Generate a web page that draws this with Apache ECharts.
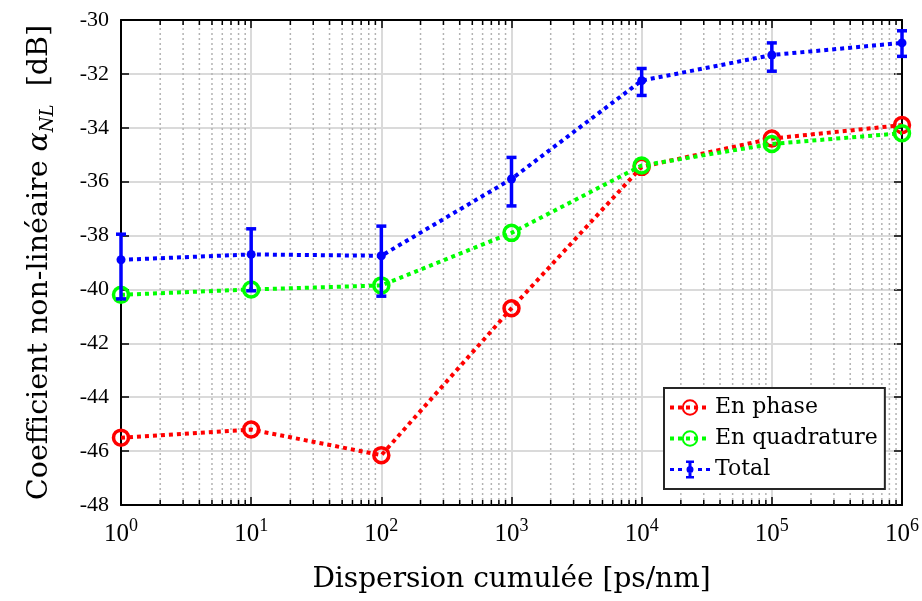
<!DOCTYPE html>
<html>
<head>
<meta charset="utf-8">
<script src="https://cdn.jsdelivr.net/npm/echarts@6/dist/echarts.min.js"></script>
<style>
  html, body { margin: 0; padding: 0; background: #fff; }
  #chart { width: 922px; height: 601px; }
</style>
</head>
<body>
<div id="chart"></div>
<script>
  // dispersion cumulée (ps/nm)
  const dispersion = [1, 10, 100, 1000, 10000, 100000, 1000000]
  const enPhase = [-45.5, -45.2, -46.15, -40.7, -35.45, -34.4, -33.9]
  const enQuadrature = [-40.2, -40.0, -39.85, -37.9, -35.4, -34.6, -34.2]
  const total = [-38.9, -38.7, -38.75, -35.9, -32.25, -31.3, -30.85]
  const totalLow = [-40.35, -40.05, -40.25, -36.9, -32.8, -31.9, -31.35]
  const totalHigh = [-37.95, -37.75, -37.65, -35.1, -31.8, -30.85, -30.4]
  const yTicks = [-48, -46, -44, -42, -40, -38, -36, -34, -32, -30]

  // minor log ticks 2..9 in each decade
  const minorX = []
  for (let d = 1; d < 1e6; d *= 10) {
    for (let m = 2; m <= 9; m++) minorX.push(m * d)
  }

  const serif = '"Liberation Serif", "DejaVu Serif", serif'
  const wide = '"DejaVu Serif", "Liberation Serif", serif'
  const yMin = yTicks[0], yMax = yTicks[yTicks.length - 1]

  // legend icon for Total: dotted line with an error bar and a dot (40 x 18 box)
  const totalIcon = 'path://M0,7.5 H4 V10.5 H0 Z M8,7.5 H12 V10.5 H8 Z M28,7.5 H32 V10.5 H28 Z M36,7.5 H40 V10.5 H36 Z ' +
    'M16,0 H24 V2.5 H21.5 V15.5 H24 V18 H16 V15.5 H18.5 V2.5 H16 Z ' +
    'M16.5,9 A3.5,3.5 0 1,1 23.5,9 A3.5,3.5 0 1,1 16.5,9 Z'

  const chart = echarts.init(document.getElementById('chart'))

  const pairs = (ys) => dispersion.map((x, i) => [x, ys[i]])

  chart.setOption({
    animation: false,
    backgroundColor: '#fff',
    textStyle: { fontFamily: serif },
    grid: { left: 121, right: 19, top: 20, bottom: 96 },
    xAxis: [
      {
        type: 'log', logBase: 10, min: 1, max: 1e6, interval: 1,
        name: 'Dispersion cumulée [ps/nm]',
        nameLocation: 'middle', nameGap: 61,
        nameTextStyle: { fontFamily: wide, fontSize: 28, color: '#000' },
        axisLine: { lineStyle: { color: '#000', width: 2 } },
        axisTick: { inside: true, length: 8, lineStyle: { color: '#000', width: 1.5 } },
        axisLabel: {
          margin: 12,
          formatter: (v) => '{b|10}{e|' + Math.round(Math.log10(v)) + '}',
          rich: {
            b: { fontFamily: serif, fontSize: 25, color: '#000', lineHeight: 30, verticalAlign: 'bottom' },
            e: { fontFamily: serif, fontSize: 18, color: '#000', lineHeight: 18, verticalAlign: 'top' }
          }
        },
        splitLine: { show: true, lineStyle: { color: '#dadada', width: 2 } }
      },
      {
        type: 'log', logBase: 10, min: 1, max: 1e6, interval: 1, position: 'top',
        axisLine: { lineStyle: { color: '#000', width: 2 } },
        axisTick: { inside: true, length: 8, lineStyle: { color: '#000', width: 1.5 } },
        axisLabel: { show: false },
        splitLine: { show: false }
      }
    ],
    yAxis: [
      {
        type: 'value', min: yMin, max: yMax, interval: 2,
        name: '{t|Coefficient non-linéaire }{a|α}{s|NL}{t|  [dB]}',
        nameLocation: 'middle', nameGap: 64,
        nameTextStyle: {
          rich: {
            t: { fontFamily: wide, fontSize: 28.5, color: '#000', lineHeight: 34, verticalAlign: 'middle' },
            a: { fontFamily: wide, fontSize: 28.5, fontStyle: 'italic', color: '#000', lineHeight: 34, verticalAlign: 'middle' },
            s: { fontFamily: wide, fontSize: 18, fontStyle: 'italic', color: '#000', lineHeight: 18, verticalAlign: 'bottom' }
          }
        },
        axisLine: { show: true, lineStyle: { color: '#000', width: 2 } },
        axisTick: { show: true, inside: true, length: 8, lineStyle: { color: '#000', width: 1.5 } },
        axisLabel: { fontFamily: serif, fontSize: 22, color: '#000', margin: 12 },
        splitLine: { show: true, lineStyle: { color: '#dadada', width: 2 } }
      },
      {
        type: 'value', min: yMin, max: yMax, interval: 2, position: 'right',
        axisLine: { show: true, lineStyle: { color: '#000', width: 2 } },
        axisTick: { show: true, inside: true, length: 8, lineStyle: { color: '#000', width: 1.5 } },
        axisLabel: { show: false },
        splitLine: { show: false }
      }
    ],
    legend: {
      orient: 'vertical',
      left: 664, top: 388,
      backgroundColor: '#fff',
      borderColor: '#262626', borderWidth: 2, borderRadius: 0,
      padding: [8, 7, 8, 4],
      itemGap: 8,
      itemWidth: 40, itemHeight: 18,
      lineStyle: { width: 4, type: [4, 4] },
      textStyle: { fontFamily: wide, fontSize: 22, lineHeight: 23, color: '#000' },
      data: [
        { name: 'En phase' },
        { name: 'En quadrature' },
        { name: 'Total', icon: totalIcon }
      ]
    },
    series: [
      {
        type: 'custom',
        name: 'minor',
        silent: true,
        z: 1,
        xAxisIndex: 0, yAxisIndex: 0,
        data: minorX.map((x) => [x]),
        renderItem: (params, api) => {
          const bottom = api.coord([api.value(0), yMin])
          const top = api.coord([api.value(0), yMax])
          return {
            type: 'group',
            children: [
              {
                type: 'line',
                shape: { x1: bottom[0], y1: bottom[1], x2: top[0], y2: top[1] },
                style: { stroke: '#b3b3b3', lineWidth: 1.5, lineDash: [2, 3] }
              },
              {
                type: 'line',
                shape: { x1: bottom[0], y1: bottom[1], x2: bottom[0], y2: bottom[1] - 5 },
                style: { stroke: '#000', lineWidth: 1.5 }
              },
              {
                type: 'line',
                shape: { x1: top[0], y1: top[1], x2: top[0], y2: top[1] + 5 },
                style: { stroke: '#000', lineWidth: 1.5 }
              }
            ]
          }
        }
      },
      {
        type: 'line',
        name: 'En phase',
        data: pairs(enPhase),
        clip: false,
        z: 3,
        symbol: 'circle', symbolSize: 15,
        itemStyle: { color: 'rgba(255,255,255,0)', borderColor: '#ff0000', borderWidth: 3.5 },
        lineStyle: { color: '#ff0000', width: 4, type: [4, 4] },
        color: '#ff0000'
      },
      {
        type: 'line',
        name: 'En quadrature',
        data: pairs(enQuadrature),
        clip: false,
        z: 4,
        symbol: 'circle', symbolSize: 15,
        itemStyle: { color: 'rgba(255,255,255,0)', borderColor: '#00ff00', borderWidth: 3.5 },
        lineStyle: { color: '#00ff00', width: 4, type: [4, 4] },
        color: '#00ff00'
      },
      {
        type: 'line',
        name: 'Total',
        data: pairs(total),
        clip: false,
        z: 5,
        symbol: 'circle', symbolSize: 9,
        itemStyle: { color: '#0000ff' },
        lineStyle: { color: '#0000ff', width: 4, type: [4, 4] },
        color: '#0000ff'
      },
      {
        type: 'custom',
        name: 'Total (erreur)',
        z: 6,
        clip: false,
        data: dispersion.map((x, i) => [x, totalLow[i], totalHigh[i]]),
        renderItem: (params, api) => {
          const lo = api.coord([api.value(0), api.value(1)])
          const hi = api.coord([api.value(0), api.value(2)])
          const w = 5
          const st = { stroke: '#0000ff', lineWidth: 3.5 }
          return {
            type: 'group',
            children: [
              { type: 'line', shape: { x1: lo[0], y1: lo[1], x2: hi[0], y2: hi[1] }, style: st },
              { type: 'line', shape: { x1: lo[0] - w, y1: lo[1], x2: lo[0] + w, y2: lo[1] }, style: st },
              { type: 'line', shape: { x1: hi[0] - w, y1: hi[1], x2: hi[0] + w, y2: hi[1] }, style: st }
            ]
          }
        }
      }
    ]
  })
</script>
</body>
</html>
